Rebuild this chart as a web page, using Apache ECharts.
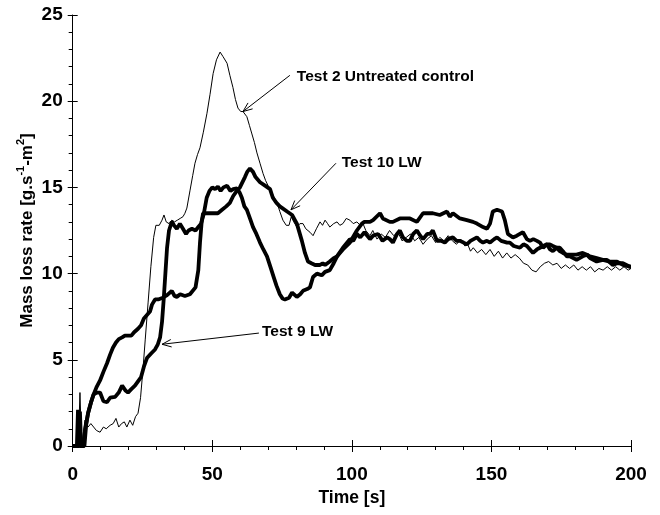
<!DOCTYPE html>
<html><head><meta charset="utf-8">
<script src="https://cdn.jsdelivr.net/npm/echarts@6/dist/echarts.min.js"></script>
<style>html,body{margin:0;padding:0;background:#fff}#c{width:660px;height:515px}</style>
</head><body><div id="c"></div>
<script>
// ---------- data ----------
const xRange = [0, 200];
const yRange = [0, 25];
const xTickStep = 50;
const yTickStep = 5;

const test2Untreated = [
[0,0],[2,0],[2.6,3.1],[3.2,0],[3.8,0],[4.4,1.5],[5.5,1.1],[6.5,1.3],[7.5,1.1],[8.5,0.9],[9.8,0.8],[11,1.1],[12,1.0],[13.4,1.2],[14.5,1.3],[15.5,1.6],[16.5,1.1],[17.5,1.3],[18.5,1.4],[19.4,1.1],[20.5,1.5],[21.5,1.2],[22.5,1.7],[23.4,1.9],[24.3,2.8],[25.2,4.5],[26,6.2],[27,8.3],[28,10.4],[29,12.1],[29.8,12.8],[31,12.8],[32,13.1],[32.7,13.4],[33.5,13.0],[34.5,12.9],[35.5,13.1],[36.5,13.0],[37.5,13.1],[38.5,13.2],[39.5,13.3],[40.2,13.5],[40.9,13.8],[42,14.8],[43,15.7],[43.8,16.4],[44.7,16.9],[45.6,17.3],[46.8,18.2],[48.1,19.3],[49.2,20.4],[50.3,21.6],[51.5,22.4],[52.8,22.85],[53.8,22.6],[55.3,22.2],[56.3,21.5],[57.4,20.8],[58.3,20.1],[59.2,19.6],[60.2,19.4],[61,19.4],[62.4,19.1],[63.3,18.6],[64.2,18.1],[65.1,17.6],[66,17.0],[67.1,16.4],[68.2,15.8],[69.1,15.4],[70,15.1],[71.6,14.6],[73.2,14.1],[74.2,13.6],[75.3,13.1],[76.5,12.8],[77.5,12.8],[78.3,13.3],[79.2,13.0],[80.3,12.7],[81.4,12.9],[82.5,12.9],[83.5,12.6],[85,12.4],[86.1,12.2],[87.3,12.6],[88.6,13.0],[89.5,12.8],[90.4,13.1],[91.3,12.9],[92.1,12.7],[93.5,12.9],[94.7,13.0],[95.7,12.8],[96.8,12.9],[98,13.2],[99.3,13.1],[100.5,12.9],[101.8,13.0],[103,12.8],[104,12.9],[105,12.5],[106.5,12.2],[107.5,12.5],[109,12.0],[110.5,12.3],[112,12.1],[113.5,12.5],[115,12.2],[116.5,12.4],[118,11.9],[119.5,12.1],[121,12.3],[122.5,11.9],[124,12.1],[125.5,11.7],[127,12.0],[128.5,12.2],[130,11.8],[131.5,12.1],[133,11.9],[134.5,12.2],[136,11.9],[137.5,11.7],[139,12.0],[140.5,11.6],[141.5,11.7],[142.5,11.3],[143.5,11.5],[145,11.2],[146.5,11.4],[148,11.1],[149.5,11.4],[151,11.0],[152.5,11.3],[154,10.9],[155.5,11.2],[157,10.9],[158.5,11.1],[160,10.9],[161.5,10.6],[163,10.5],[164.5,10.2],[166,10.1],[167.5,10.4],[169,10.6],[170.5,10.7],[172,10.5],[173.5,10.6],[175,10.3],[176.5,10.5],[178,10.3],[179.5,10.5],[181,10.2],[182.5,10.4],[184,10.2],[185.5,10.4],[187,10.1],[188.5,10.3],[190,10.2],[191.5,10.4],[193,10.2],[194.5,10.4],[196,10.2],[197.5,10.4],[199,10.2],[200,10.3]
];

const test9LW = [
[0,0],[1.5,0],[1.9,2.1],[2.4,0],[3.8,0],[4.5,1.0],[5.5,1.9],[6.5,2.5],[7.5,3.0],[8.7,3.1],[9.8,3.1],[11,2.6],[12.3,2.55],[13.4,2.8],[15.2,2.85],[16.5,3.1],[17.7,3.5],[19,3.2],[19.8,3.1],[21,3.3],[22.3,3.5],[23,3.5],[24.5,4.0],[25.5,4.6],[26.6,5.1],[28,5.35],[29.5,5.6],[30.5,5.9],[31.3,6.3],[32,7.2],[32.6,8.5],[33.2,10.0],[33.8,11.5],[34.5,12.5],[35.5,13.0],[36.3,12.8],[37.3,12.6],[38.4,12.9],[39.5,12.6],[40.6,12.3],[41.5,12.5],[42.7,12.6],[44,12.5],[45,12.7],[46,12.9],[47,13.5],[48,14.4],[49,14.8],[50,15.0],[51,14.9],[52,15.05],[53,14.8],[54,15.0],[55.3,15.1],[56.5,14.8],[57.5,14.9],[58.8,14.95],[59.8,14.7],[60.6,14.4],[61.5,13.9],[62.4,13.7],[63.5,13.2],[64.6,12.7],[65.8,12.3],[67.1,11.8],[68.3,11.4],[69.6,11.0],[71,10.3],[72,9.8],[73,9.3],[74.2,8.8],[75.2,8.55],[76,8.5],[77.5,8.6],[78.6,8.9],[80.3,8.65],[81.5,8.8],[82.5,9.0],[84,9.1],[85,9.2],[86.1,9.8],[87.5,10.0],[89.2,9.9],[90.4,10.1],[92.1,10.2],[93.5,10.6],[94.7,11.0],[96.8,11.5],[99.3,12.0],[100.5,11.9],[101.8,12.3],[103,12.1],[104.5,12.4],[106.5,12.0],[107.6,12.2],[109.4,12.3],[111,11.9],[112.6,12.1],[113.6,12.0],[114.7,11.8],[116.2,12.3],[117.2,12.5],[118.3,12.1],[119.7,11.9],[120.8,11.9],[122,12.3],[123.3,12.5],[124.5,12.2],[125.5,12.0],[127,12.3],[128,12.3],[129,12.5],[130.5,11.9],[132,11.9],[133.3,11.8],[134.5,12.0],[136.2,12.1],[137.5,11.9],[138.7,11.9],[140,11.8],[141.2,11.7],[142.5,11.9],[144.8,12.1],[146,11.9],[147,11.8],[148.4,11.9],[149.5,11.8],[151,12.0],[152,12.1],[153.5,11.9],[155.6,11.8],[156.6,11.8],[158,11.6],[160.2,11.5],[161.5,11.7],[162.7,11.6],[164.9,11.2],[166.3,11.4],[167.4,11.5],[168.5,11.6],[169.9,11.7],[171,11.4],[172,11.3],[173.4,11.5],[174.5,11.5],[175.6,11.3],[177,11.0],[178.1,11.0],[180.5,10.8],[182.7,11.0],[184.2,11.1],[185.3,10.9],[187.7,10.7],[189.9,10.8],[191.4,10.8],[193.5,10.5],[195,10.6],[197.1,10.6],[199.6,10.4],[200,10.4]
];

const test10LW = [
[0,0],[2.2,0],[2.6,2.0],[3.0,0],[4.2,0],[4.8,1.2],[5.5,1.9],[6.5,2.5],[7.3,2.9],[8.5,3.4],[9.8,3.8],[11,4.3],[12.3,4.8],[13.4,5.3],[14.4,5.7],[15.5,6.0],[16.5,6.2],[17.7,6.3],[18.7,6.4],[19.8,6.4],[21,6.4],[22,6.6],[23.4,6.8],[24.5,7.0],[25.5,7.4],[26.6,7.6],[27.7,7.8],[28.4,8.2],[29.5,8.5],[30.6,8.5],[32.3,8.6],[33.8,8.75],[35.5,9.0],[36.5,8.7],[37.3,8.65],[38.5,8.8],[39.1,8.9],[40.2,8.7],[40.9,8.6],[42,8.8],[42.7,8.9],[44,9.2],[44.5,9.2],[45,10.2],[45.6,11.8],[46.2,13.0],[46.7,13.5],[48,13.5],[49.5,13.5],[51,13.5],[52,13.5],[53.5,13.7],[55,13.9],[56.3,14.1],[57.5,14.5],[58.8,14.8],[59.9,15.0],[61.7,15.6],[62.5,15.9],[63.5,16.1],[64.6,15.9],[65.5,15.6],[67.1,15.3],[68.9,15.1],[70.7,14.9],[71.7,14.4],[73,14.1],[74.2,13.9],[76.8,13.6],[78.6,13.4],[80.3,12.9],[82.1,11.9],[83.2,11.2],[84.3,10.7],[85.5,10.6],[86.8,10.5],[88.6,10.5],[89.6,10.6],[90.4,10.5],[92.1,10.7],[93.5,10.9],[94.7,11.0],[96.8,11.4],[99.3,11.8],[101.8,12.5],[103.6,12.9],[104.5,13.0],[106.5,13.0],[107.6,13.1],[110.1,13.5],[111.1,13.2],[111.8,13.1],[113.6,13.0],[114.7,13.0],[117.2,13.2],[119.7,13.2],[120.8,13.2],[123.3,13.0],[125.5,13.5],[127,13.5],[129,13.5],[131.5,13.4],[134.1,13.6],[135.1,13.3],[136.2,13.5],[136.9,13.5],[138.7,13.2],[141.2,13.1],[143.4,13.0],[144.8,12.9],[147,12.7],[148.4,12.6],[149.5,12.9],[150.5,13.6],[152,13.7],[153.8,13.6],[154.8,13.1],[155.9,12.3],[157.7,12.1],[159.1,12.2],[160.2,12.3],[161.3,12.4],[162.7,12.0],[163.8,11.9],[165,12.0],[166.3,11.9],[167.4,11.8],[168.5,11.5],[169.9,11.7],[170.9,11.7],[172,11.6],[173.4,11.5],[174.5,11.3],[175.6,11.2],[177,11.1],[178.1,11.1],[180.5,11.1],[182.7,11.2],[184.2,11.1],[185.3,11.0],[187.7,10.9],[189.9,10.8],[192.4,10.7],[195,10.7],[197.1,10.5],[199.6,10.4],[200,10.4]
];

// annotation labels (text, label anchor, arrow start, arrow tip) in data units
const noteTexts = ['Test 2 Untreated control', 'Test 10 LW', 'Test 9 LW'];
const noteTextAt = [[80.3, 21.4], [96.4, 16.45], [67.8, 6.65]];
const noteArrowFrom = [[77.8, 21.5], [94.3, 16.4], [66.7, 6.55]];
const noteArrowTo = [[61.0, 19.4], [78.2, 13.7], [32.0, 5.9]];

// ---------- chart ----------
const FONT = 'Arial, "Liberation Sans", sans-serif';
const chart = echarts.init(document.getElementById('c'), null, {renderer: 'canvas'});

const baseX = {
  type: 'value', min: xRange[0], max: xRange[1], interval: xTickStep,
  position: 'bottom', splitLine: {show: false}
};
const baseY = {
  type: 'value', min: yRange[0], max: yRange[1], interval: yTickStep,
  position: 'left', splitLine: {show: false}
};

const option = {
  animation: false,
  backgroundColor: '#fff',
  grid: {left: 72.7, right: 29, top: 15, bottom: 69, containLabel: false},
  xAxis: [
    Object.assign({}, baseX, {
      axisLine: {show: true, onZero: false, lineStyle: {color: '#000', width: 1}},
      axisTick: {show: true, inside: false, length: 6, lineStyle: {color: '#000', width: 1}},
      minorTick: {show: true, splitNumber: 5, length: 4, lineStyle: {color: '#000', width: 1}},
      axisLabel: {color: '#000', fontFamily: FONT, fontWeight: 'bold', fontSize: 19, margin: 19},
      name: 'Time [s]', nameLocation: 'middle', nameGap: 43, nameMoveOverlap: false,
      nameTextStyle: {color: '#000', fontFamily: FONT, fontWeight: 'bold', fontSize: 17.5}
    }),
    Object.assign({}, baseX, {
      axisLine: {show: false},
      axisTick: {show: true, inside: true, length: 6, lineStyle: {color: '#000', width: 1}},
      axisLabel: {show: false}
    })
  ],
  yAxis: [
    Object.assign({}, baseY, {
      axisLine: {show: true, onZero: false, lineStyle: {color: '#000', width: 1}},
      axisTick: {show: true, inside: false, length: 5, lineStyle: {color: '#000', width: 1}},
      minorTick: {show: true, splitNumber: 5, length: 4, lineStyle: {color: '#000', width: 1}},
      axisLabel: {color: '#000', fontFamily: FONT, fontWeight: 'bold', fontSize: 19, margin: 10},
      name: 'Mass loss rate [g.s{sup|-1}-m{sup|2}]', nameLocation: 'middle', nameGap: 33, nameMoveOverlap: false,
      nameTextStyle: {
        color: '#000', fontFamily: FONT, fontWeight: 'bold', fontSize: 17, lineHeight: 24,
        rich: {sup: {fontFamily: FONT, fontWeight: 'bold', fontSize: 11, verticalAlign: 'top', color: '#000'}}
      }
    }),
    Object.assign({}, baseY, {
      axisLine: {show: false},
      axisTick: {show: true, inside: true, length: 5, lineStyle: {color: '#000', width: 1}},
      axisLabel: {show: false}
    })
  ],
  series: [
    {name: 'Test 2 Untreated control', type: 'line', data: test2Untreated, showSymbol: false,
     lineStyle: {color: '#000', width: 1}, z: 2},
    {name: 'Test 9 LW', type: 'line', data: test9LW, showSymbol: false,
     lineStyle: {color: '#000', width: 3.8}, z: 3},
    {name: 'Test 10 LW', type: 'line', data: test10LW, showSymbol: false,
     lineStyle: {color: '#000', width: 3.8}, z: 3}
  ]
};
chart.setOption(option);

// annotations positioned through the axes
const graphics = [];
for (let i = 0; i < noteTexts.length; i++) {
  const t = chart.convertToPixel({gridIndex: 0}, noteTextAt[i]);
  const a = chart.convertToPixel({gridIndex: 0}, noteArrowFrom[i]);
  const b = chart.convertToPixel({gridIndex: 0}, noteArrowTo[i]);
  const dx = b[0] - a[0], dy = b[1] - a[1];
  const len = Math.hypot(dx, dy);
  const ux = dx / len, uy = dy / len;
  const L = 10, ang = 22 * Math.PI / 180;
  const rot = (s) => {
    const c = Math.cos(s * ang), sn = Math.sin(s * ang);
    return [b[0] - L * (ux * c - uy * sn), b[1] - L * (ux * sn + uy * c)];
  };
  graphics.push({type: 'polyline', shape: {points: [a, b]}, style: {stroke: '#000', lineWidth: 1, fill: null}, z: 10});
  graphics.push({type: 'polyline', shape: {points: [rot(1), b, rot(-1)]}, style: {stroke: '#000', lineWidth: 1, fill: null}, z: 10});
  graphics.push({type: 'text', x: t[0], y: t[1], style: {text: noteTexts[i], font: 'bold 15.5px ' + FONT, fill: '#000', align: 'left', verticalAlign: 'middle'}, z: 10});
}
chart.setOption({graphic: graphics});
</script>
</body></html>
